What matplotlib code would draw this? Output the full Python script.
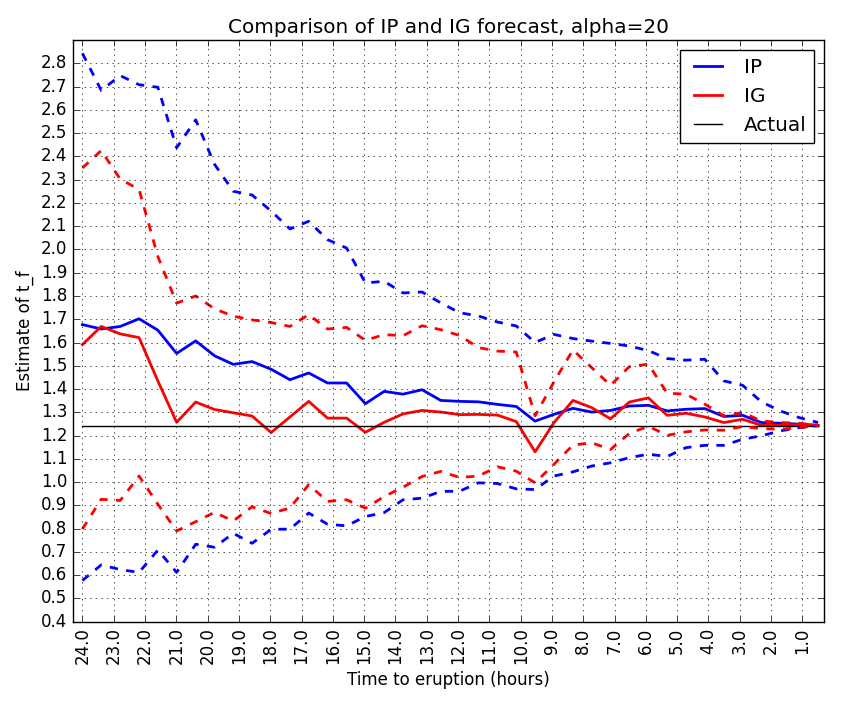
import matplotlib
matplotlib.use('Agg')
import matplotlib.pyplot as plt

plt.style.use('classic')

# time to eruption (hours)
time = [24.0, 23.4, 22.79, 22.19, 21.59, 20.99, 20.38, 19.78, 19.18, 18.58,
        17.97, 17.37, 16.77, 16.17, 15.56, 14.96, 14.36, 13.76, 13.15, 12.55,
        11.95, 11.35, 10.74, 10.14, 9.54, 8.94, 8.33, 7.73, 7.13, 6.53,
        5.92, 5.32, 4.72, 4.12, 3.51, 2.91, 2.31, 1.71, 1.1, 0.5]

ip = [1.677, 1.658, 1.669, 1.702, 1.653, 1.553, 1.607, 1.543, 1.506, 1.518,
      1.485, 1.44, 1.469, 1.426, 1.426, 1.337, 1.39, 1.378, 1.397, 1.351,
      1.347, 1.345, 1.334, 1.325, 1.262, 1.291, 1.317, 1.301, 1.308, 1.327,
      1.33, 1.306, 1.313, 1.316, 1.282, 1.287, 1.256, 1.253, 1.249, 1.244]
ip_upper = [2.843, 2.684, 2.747, 2.708, 2.697, 2.437, 2.557, 2.366, 2.25, 2.234,
            2.165, 2.088, 2.121, 2.042, 2.006, 1.856, 1.863, 1.813, 1.817, 1.77,
            1.728, 1.714, 1.688, 1.671, 1.6, 1.635, 1.617, 1.606, 1.596, 1.585,
            1.565, 1.531, 1.524, 1.528, 1.435, 1.416, 1.345, 1.306, 1.277, 1.256]
ip_lower = [0.577, 0.644, 0.624, 0.612, 0.708, 0.612, 0.733, 0.72, 0.78, 0.737,
            0.797, 0.798, 0.867, 0.819, 0.812, 0.852, 0.869, 0.924, 0.931, 0.96,
            0.961, 0.997, 0.994, 0.971, 0.968, 1.026, 1.044, 1.069, 1.083, 1.105,
            1.12, 1.11, 1.148, 1.158, 1.158, 1.184, 1.199, 1.22, 1.234, 1.242]

ig = [1.591, 1.669, 1.637, 1.621, 1.435, 1.257, 1.344, 1.312, 1.298, 1.284,
      1.213, 1.28, 1.347, 1.275, 1.275, 1.214, 1.257, 1.293, 1.308, 1.301,
      1.29, 1.291, 1.288, 1.26, 1.13, 1.255, 1.351, 1.32, 1.272, 1.344,
      1.362, 1.287, 1.296, 1.28, 1.256, 1.27, 1.244, 1.244, 1.247, 1.244]
ig_upper = [2.35, 2.425, 2.302, 2.258, 1.97, 1.769, 1.80, 1.745, 1.713, 1.697,
            1.686, 1.669, 1.72, 1.658, 1.665, 1.609, 1.634, 1.629, 1.672, 1.655,
            1.63, 1.578, 1.563, 1.559, 1.285, 1.43, 1.568, 1.492, 1.416, 1.496,
            1.507, 1.382, 1.378, 1.335, 1.285, 1.299, 1.263, 1.256, 1.253, 1.244]
ig_lower = [0.798, 0.926, 0.921, 1.026, 0.905, 0.79, 0.83, 0.87, 0.833, 0.894,
            0.865, 0.889, 0.989, 0.917, 0.924, 0.888, 0.938, 0.978, 1.024, 1.046,
            1.02, 1.026, 1.066, 1.047, 0.997, 1.076, 1.159, 1.169, 1.14, 1.209,
            1.24, 1.201, 1.216, 1.224, 1.223, 1.239, 1.23, 1.227, 1.234, 1.244]

actual = 1.24

xticks = [24, 23, 22, 21, 20, 19, 18, 17, 16, 15, 14, 13, 12,
          11, 10, 9, 8, 7, 6, 5, 4, 3, 2, 1]
yticks = [0.4, 0.5, 0.6, 0.7, 0.8, 0.9, 1.0, 1.1, 1.2, 1.3, 1.4, 1.5, 1.6,
          1.7, 1.8, 1.9, 2.0, 2.1, 2.2, 2.3, 2.4, 2.5, 2.6, 2.7, 2.8]

fig = plt.figure(figsize=(8.42, 7.06), dpi=100, facecolor='white')
ax = fig.add_axes([0.0867, 0.1194, 0.8923, 0.8239])

ax.plot(time, ip, 'b-', lw=2, label='IP')
ax.plot(time, ig, 'r-', lw=2, label='IG')
ax.plot(time, [actual] * len(time), 'k-', lw=1, label='Actual')
ax.plot(time, ip_upper, 'b--', lw=2)
ax.plot(time, ip_lower, 'b--', lw=2)
ax.plot(time, ig_upper, 'r--', lw=2)
ax.plot(time, ig_lower, 'r--', lw=2)

ax.set_xlim(24.3, 0.3)
ax.set_ylim(0.4, 2.9)
ax.set_xticks(xticks)
ax.set_xticklabels(['%.1f' % t for t in xticks], rotation=90)
ax.set_yticks(yticks)
ax.set_yticklabels(['%.1f' % t for t in yticks])
ax.grid(True)

ax.set_title('Comparison of IP and IG forecast, alpha=20')
ax.set_xlabel('Time to eruption (hours)')
ax.set_ylabel('Estimate of t_f')
ax.legend(loc='upper right')

fig.savefig('out.png', dpi=100, facecolor='white')
